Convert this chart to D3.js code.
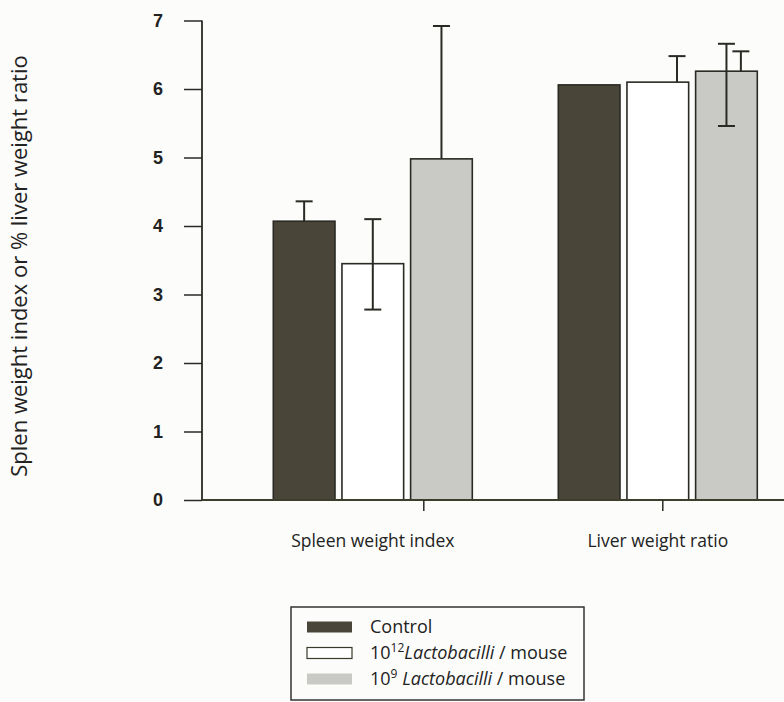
<!DOCTYPE html>
<html>
<head>
<meta charset="utf-8">
<script src="https://cdn.jsdelivr.net/npm/d3@7"></script>
<style>
  html, body { margin: 0; padding: 0; background: #fcfcfa; }
  svg { display: block; }
</style>
</head>
<body>
<svg id="chart" width="784" height="702"></svg>
<script>
// Organ weight measurements per treatment group (mean and error)
const groups = ["Spleen weight index", "Liver weight ratio"];
const seriesNames = ["Control", "10^12 Lactobacilli / mouse", "10^9 Lactobacilli / mouse"];
const controlMean = [4.07, 6.06];
const dose12Mean = [3.45, 6.10];
const dose9Mean = [4.98, 6.26];
const controlErrUp = [0.29, 0.60];
const controlErrDown = [0, 0.60];
const dose12ErrUp = [0.65, 0.38];
const dose12ErrDown = [0.67, 0];
const dose9ErrUp = [1.94, 0.29];
const dose9ErrDown = [0, 0];
const yTicks = [0, 1, 2, 3, 4, 5, 6, 7];

const series = [
  { name: seriesNames[0], mean: controlMean, up: controlErrUp, down: controlErrDown },
  { name: seriesNames[1], mean: dose12Mean, up: dose12ErrUp, down: dose12ErrDown },
  { name: seriesNames[2], mean: dose9Mean, up: dose9ErrUp, down: dose9ErrDown }
];

// styling
const fills = ["#4a4539", "#ffffff", "#c9c9c6"];
const ink = "#2a2a24";
// whiskers in the liver group sit offset from their bars (in bar steps)
const whiskerShift = [[0, 0, 0], [2, 0.28, 0.21]];
// category tick marks offset from group centres (px)
const tickShift = [51, 5];

const svg = d3.select("#chart");
const x0 = 202, yBase = 500, yTop = 20.5;

const y = d3.scaleLinear().domain([0, 7]).range([yBase, yTop]);
const xGroup = d3.scaleBand().domain(groups).range([230.3, 800.3]).padding(0);
const xSeries = d3.scaleBand().domain(seriesNames).range([-99.5, 99.5])
  .paddingInner(7 / 69).paddingOuter(0);
const step = xSeries.step();

// bars
const g = svg.append("g");
series.forEach((s, si) => {
  g.selectAll(null).data(groups).enter().append("rect")
    .attr("x", gr => xGroup(gr) + xGroup.bandwidth() / 2 + xSeries(s.name))
    .attr("y", (gr, gi) => y(s.mean[gi]))
    .attr("width", xSeries.bandwidth())
    .attr("height", (gr, gi) => yBase - y(s.mean[gi]))
    .attr("fill", fills[si])
    .attr("stroke", ink)
    .attr("stroke-width", 1.6);
});

// error whiskers
const capW = 17;
series.forEach((s, si) => {
  groups.forEach((gr, gi) => {
    const cx = xGroup(gr) + xGroup.bandwidth() / 2 + xSeries(s.name) + xSeries.bandwidth() / 2
      + whiskerShift[gi][si] * step;
    const m = s.mean[gi];
    const hi = m + s.up[gi], lo = m - s.down[gi];
    const w = g.append("g").attr("stroke", ink).attr("stroke-width", 2);
    w.append("line").attr("x1", cx).attr("x2", cx).attr("y1", y(hi)).attr("y2", y(lo));
    if (s.up[gi] > 0) w.append("line").attr("x1", cx - capW / 2).attr("x2", cx + capW / 2)
      .attr("y1", y(hi)).attr("y2", y(hi));
    if (s.down[gi] > 0) w.append("line").attr("x1", cx - capW / 2).attr("x2", cx + capW / 2)
      .attr("y1", y(lo)).attr("y2", y(lo));
  });
});

// y axis
const yAxis = svg.append("g").attr("transform", `translate(${x0},0)`)
  .call(d3.axisLeft(y).tickValues(yTicks).tickFormat(d3.format("d")).tickSize(18).tickPadding(21));
yAxis.select(".domain").attr("d", `M0,${yTop}V${yBase}`).attr("stroke", ink).attr("stroke-width", 1.8);
yAxis.selectAll(".tick line").attr("stroke", ink).attr("stroke-width", 1.5);
yAxis.selectAll(".tick text")
  .attr("font-family", "'Liberation Sans', Arial, sans-serif")
  .attr("font-weight", "bold").attr("font-size", 18).attr("fill", "#222");

// x axis
const xAxis = svg.append("g").attr("transform", `translate(0,${yBase})`)
  .call(d3.axisBottom(xGroup).tickSize(0).tickPadding(34.5));
xAxis.select(".domain").attr("d", `M${x0},0H784`).attr("stroke", "#3e3e2c").attr("stroke-width", 1.8);
xAxis.selectAll(".tick text")
  .attr("font-family", "'Open Sans', sans-serif").attr("font-size", 17.5).attr("fill", "#222");
groups.forEach((gr, gi) => {
  const tx = xGroup(gr) + xGroup.bandwidth() / 2 + tickShift[gi];
  xAxis.append("line").attr("x1", tx).attr("x2", tx).attr("y1", 0).attr("y2", 11)
    .attr("stroke", ink).attr("stroke-width", 1.5);
});

// y axis title
svg.append("text")
  .attr("transform", "translate(27,266) rotate(-90)")
  .attr("text-anchor", "middle")
  .attr("font-family", "'Open Sans', sans-serif").attr("font-size", 22).attr("fill", "#222")
  .text("Splen weight index or % liver weight ratio");

// legend
const lg = svg.append("g");
lg.append("rect").attr("x", 291).attr("y", 607).attr("width", 293).attr("height", 93)
  .attr("fill", "#fcfcfa").attr("stroke", "#333").attr("stroke-width", 1.5);
const legendRows = [
  { base: "Control", exp: "", italic: "", rest: "" },
  { base: "10", exp: "12", italic: "Lactobacilli", rest: " / mouse" },
  { base: "10", exp: "9", italic: "Lactobacilli", rest: " / mouse" }
];
legendRows.forEach((r, i) => {
  const cy = 627 + i * 26;
  lg.append("rect").attr("x", 307).attr("y", cy - 5.5).attr("width", 45).attr("height", 11)
    .attr("fill", fills[i]).attr("stroke", i === 1 ? "#3a3a2c" : "none").attr("stroke-width", 1.2);
  const t = lg.append("text").attr("x", 370).attr("y", cy + 6)
    .attr("font-family", "'Open Sans', sans-serif").attr("font-size", 18).attr("fill", "#222");
  t.append("tspan").text(r.base);
  if (r.exp) {
    t.append("tspan").attr("dy", -7).attr("font-size", 12).text(r.exp);
    t.append("tspan").attr("dy", 7).attr("font-style", "italic").text((r.exp === "9" ? " " : "") + r.italic);
    t.append("tspan").text(r.rest);
  }
});
</script>
</body>
</html>
